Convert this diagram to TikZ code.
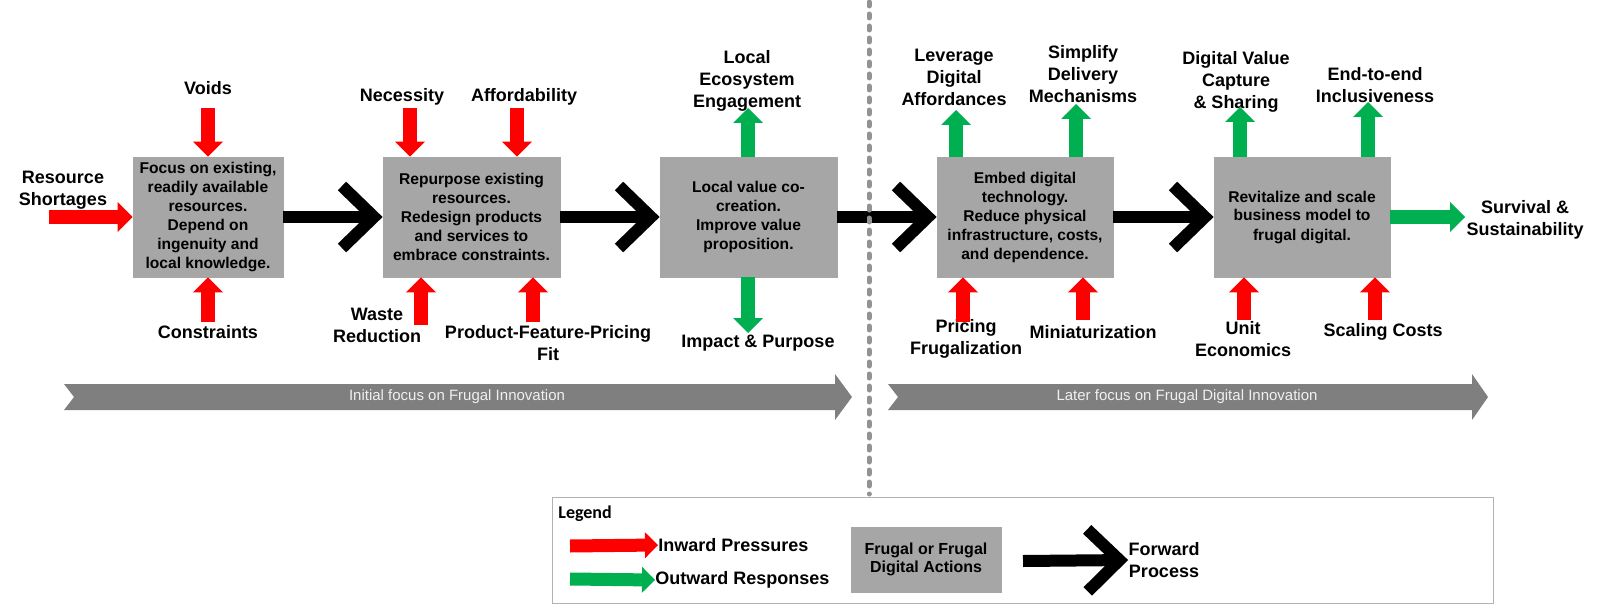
\documentclass[tikz,border=0pt]{standalone}
\usepackage{fontspec}
\setmainfont{Liberation Sans}
\newfontfamily\legendfont{Carlito}
\usetikzlibrary{arrows.meta,positioning}

\definecolor{pressred}{RGB}{255,0,0}
\definecolor{respgreen}{RGB}{0,176,80}
\definecolor{actgray}{RGB}{166,166,166}
\definecolor{bandgray}{RGB}{127,127,127}

\tikzset{
  act/.style={rectangle, draw=gray!70, fill=actgray, minimum height=60pt, align=center,
    inner sep=1pt, font=\fontsize{7.8}{9.5}\selectfont\bfseries},
  lbl/.style={align=center, inner sep=0pt, font=\fontsize{9}{11}\selectfont\bfseries},
  press/.style={draw=pressred, line width=7pt, -{Triangle[length=7.5pt,width=15pt,line width=0pt]}},
  resp/.style={draw=respgreen, line width=7pt, -{Triangle[length=7.5pt,width=15pt,line width=0pt]}},
  fwd/.style={draw=black, line width=6pt, -{Straight Barb[length=16pt,width=31pt]}},
  band/.style={fill=bandgray},
  bandtext/.style={text=white!94!black, inner sep=0pt, font=\fontsize{7.5}{9}\selectfont}
}

\begin{document}
\begin{tikzpicture}[x=0.5pt,y=-0.5pt]
  \useasboundingbox (0,0) rectangle (1600,610);

  % action boxes
  \node[act, minimum width=75pt] (b1) at (208,217)
    {Focus on existing,\\readily available\\resources.\\Depend on\\ingenuity and\\local knowledge.};
  \node[act, minimum width=88.5pt] (b2) at (471.5,217)
    {Repurpose existing\\resources.\\Redesign products\\and services to\\embrace constraints.};
  \node[act, minimum width=88.5pt] (b3) at (748.5,217)
    {Local value co-\\creation.\\Improve value\\proposition.};
  \node[act, minimum width=88pt] (b4) at (1025,217)
    {Embed digital\\technology.\\Reduce physical\\infrastructure, costs,\\and dependence.};
  \node[act, minimum width=88pt] (b5) at (1302,217)
    {Revitalize and scale\\business model to\\frugal digital.};

  % labels
  \node[lbl] (shortages) at (63,190) {Resource\\Shortages};
  \node[lbl] (voids) at (208,88) {Voids};
  \node[lbl] (constraints) at (208,332) {Constraints};
  \node[lbl] (necessity) at (402,97) {Necessity};
  \node[lbl] (afford) at (524,97) {Affordability};
  \node[lbl] (waste) at (377,325) {Waste\\Reduction};
  \node[lbl] (pricefit) at (548,343) {Product-Feature-Pricing\\Fit};
  \node[lbl] (ecosys) at (747,81) {Local\\Ecosystem\\Engagement};
  \node[lbl] (impact) at (758,343) {Impact \& Purpose};
  \node[lbl] (leverage) at (954,77) {Leverage\\Digital\\Affordances};
  \node[lbl] (simplify) at (1083,74) {Simplify\\Delivery\\Mechanisms};
  \node[lbl] (pricing) at (966,339) {Pricing\\Frugalization};
  \node[lbl] (miniat) at (1093,332) {Miniaturization};
  \node[lbl] (capture) at (1236,82) {Digital Value\\Capture\\\& Sharing};
  \node[lbl] (inclus) at (1375,85) {End-to-end\\Inclusiveness};
  \node[lbl] (unit) at (1243,339) {Unit\\Economics};
  \node[lbl] (scaling) at (1383,332) {Scaling Costs};
  \node[lbl] (survival) at (1525,220) {Survival \&\\Sustainability};

  % free ends of the block arrows
  \coordinate (tShort) at (49,217);
  \coordinate (tVoids) at (208,108);
  \coordinate (tCons) at (208,322);
  \coordinate (tNec) at (410,108);
  \coordinate (tAff) at (517,108);
  \coordinate (tWaste) at (421,325);
  \coordinate (tFit) at (533,322);
  \coordinate (tPrice) at (963,322);
  \coordinate (tMini) at (1083,320);
  \coordinate (tUnit) at (1244,320);
  \coordinate (tScale) at (1375,320);
  \coordinate (hEco) at (748,108);
  \coordinate (hImpact) at (748,333);
  \coordinate (hLev) at (956,110);
  \coordinate (hSimp) at (1076,104);
  \coordinate (hCapt) at (1240,107);
  \coordinate (hIncl) at (1368,102);
  \coordinate (hSurv) at (1465,217);

  % inward pressures
  \draw[press] (tShort) -- (b1.west);
  \draw[press] (tVoids) -- (b1.north);
  \draw[press] (tCons) -- (b1.south);
  \draw[press] (tNec) -- (b2.north -| tNec);
  \draw[press] (tAff) -- (b2.north -| tAff);
  \draw[press] (tWaste) -- (b2.south -| tWaste);
  \draw[press] (tFit) -- (b2.south -| tFit);
  \draw[press] (tPrice) -- (b4.south -| tPrice);
  \draw[press] (tMini) -- (b4.south -| tMini);
  \draw[press] (tUnit) -- (b5.south -| tUnit);
  \draw[press] (tScale) -- (b5.south -| tScale);

  % outward responses
  \draw[resp] (b3.north -| hEco) -- (hEco);
  \draw[resp] (b3.south -| hImpact) -- (hImpact);
  \draw[resp] (b4.north -| hLev) -- (hLev);
  \draw[resp] (b4.north -| hSimp) -- (hSimp);
  \draw[resp] (b5.north -| hCapt) -- (hCapt);
  \draw[resp] (b5.north -| hIncl) -- (hIncl);
  \draw[resp] (b5.east) -- (hSurv);

  % forward process
  \draw[fwd] (b1) -- (b2);
  \draw[fwd] (b2) -- (b3);
  \draw[fwd] (b3) -- (b4);
  \draw[fwd] (b4) -- (b5);

  % phase bands
  \fill[band] (64,384) -- (835,384) -- (835,374) -- (852,397) -- (835,420)
    -- (835,410) -- (64,410) -- (74,397) -- cycle;
  \fill[band] (888,384) -- (1472,384) -- (1472,374) -- (1488,397) -- (1472,420)
    -- (1472,410) -- (888,410) -- (898,397) -- cycle;
  \node[bandtext] (early) at (457,397) {Initial focus on Frugal Innovation};
  \node[bandtext] (later) at (1187,397) {Later focus on Frugal Digital Innovation};

  % divider
  \draw[gray!85, line width=2.5pt, line cap=round, dash pattern=on 2pt off 4pt]
    (869,2) -- (869,494);

  % legend
  \node[draw=gray!60, line width=0.5pt, minimum width=470.5pt, minimum height=53pt] (legend)
    at (1022.5,550.5) {};
  \node[anchor=west, inner sep=0pt, font=\legendfont\fontsize{9}{11}\selectfont\bfseries]
    (legtitle) at (558,514) {Legend};
  \node[lbl, anchor=west] (inward) at (658,545) {Inward Pressures};
  \node[lbl, anchor=west] (outward) at (655,580) {Outward Responses};
  \coordinate (lRed) at (570,546);
  \coordinate (lGreen) at (570,579);
  \draw[press, line width=6.5pt, -{Triangle[length=6.5pt,width=13pt,line width=0pt]}] (lRed) -- (inward.west);
  \draw[resp, line width=6.5pt, -{Triangle[length=6.5pt,width=13pt,line width=0pt]}] (lGreen) -- (outward.west);
  \node[act, minimum width=75pt, minimum height=32.5pt, font=\fontsize{8}{9}\selectfont\bfseries]
    (legact) at (926,559.5) {Frugal or Frugal\\Digital Actions};
  \node[lbl] (forward) at (1164,560) {Forward\\Process};
  \coordinate (lBlack) at (1023,561);
  \draw[fwd] (lBlack) -- (forward.west);
\end{tikzpicture}
\end{document}
